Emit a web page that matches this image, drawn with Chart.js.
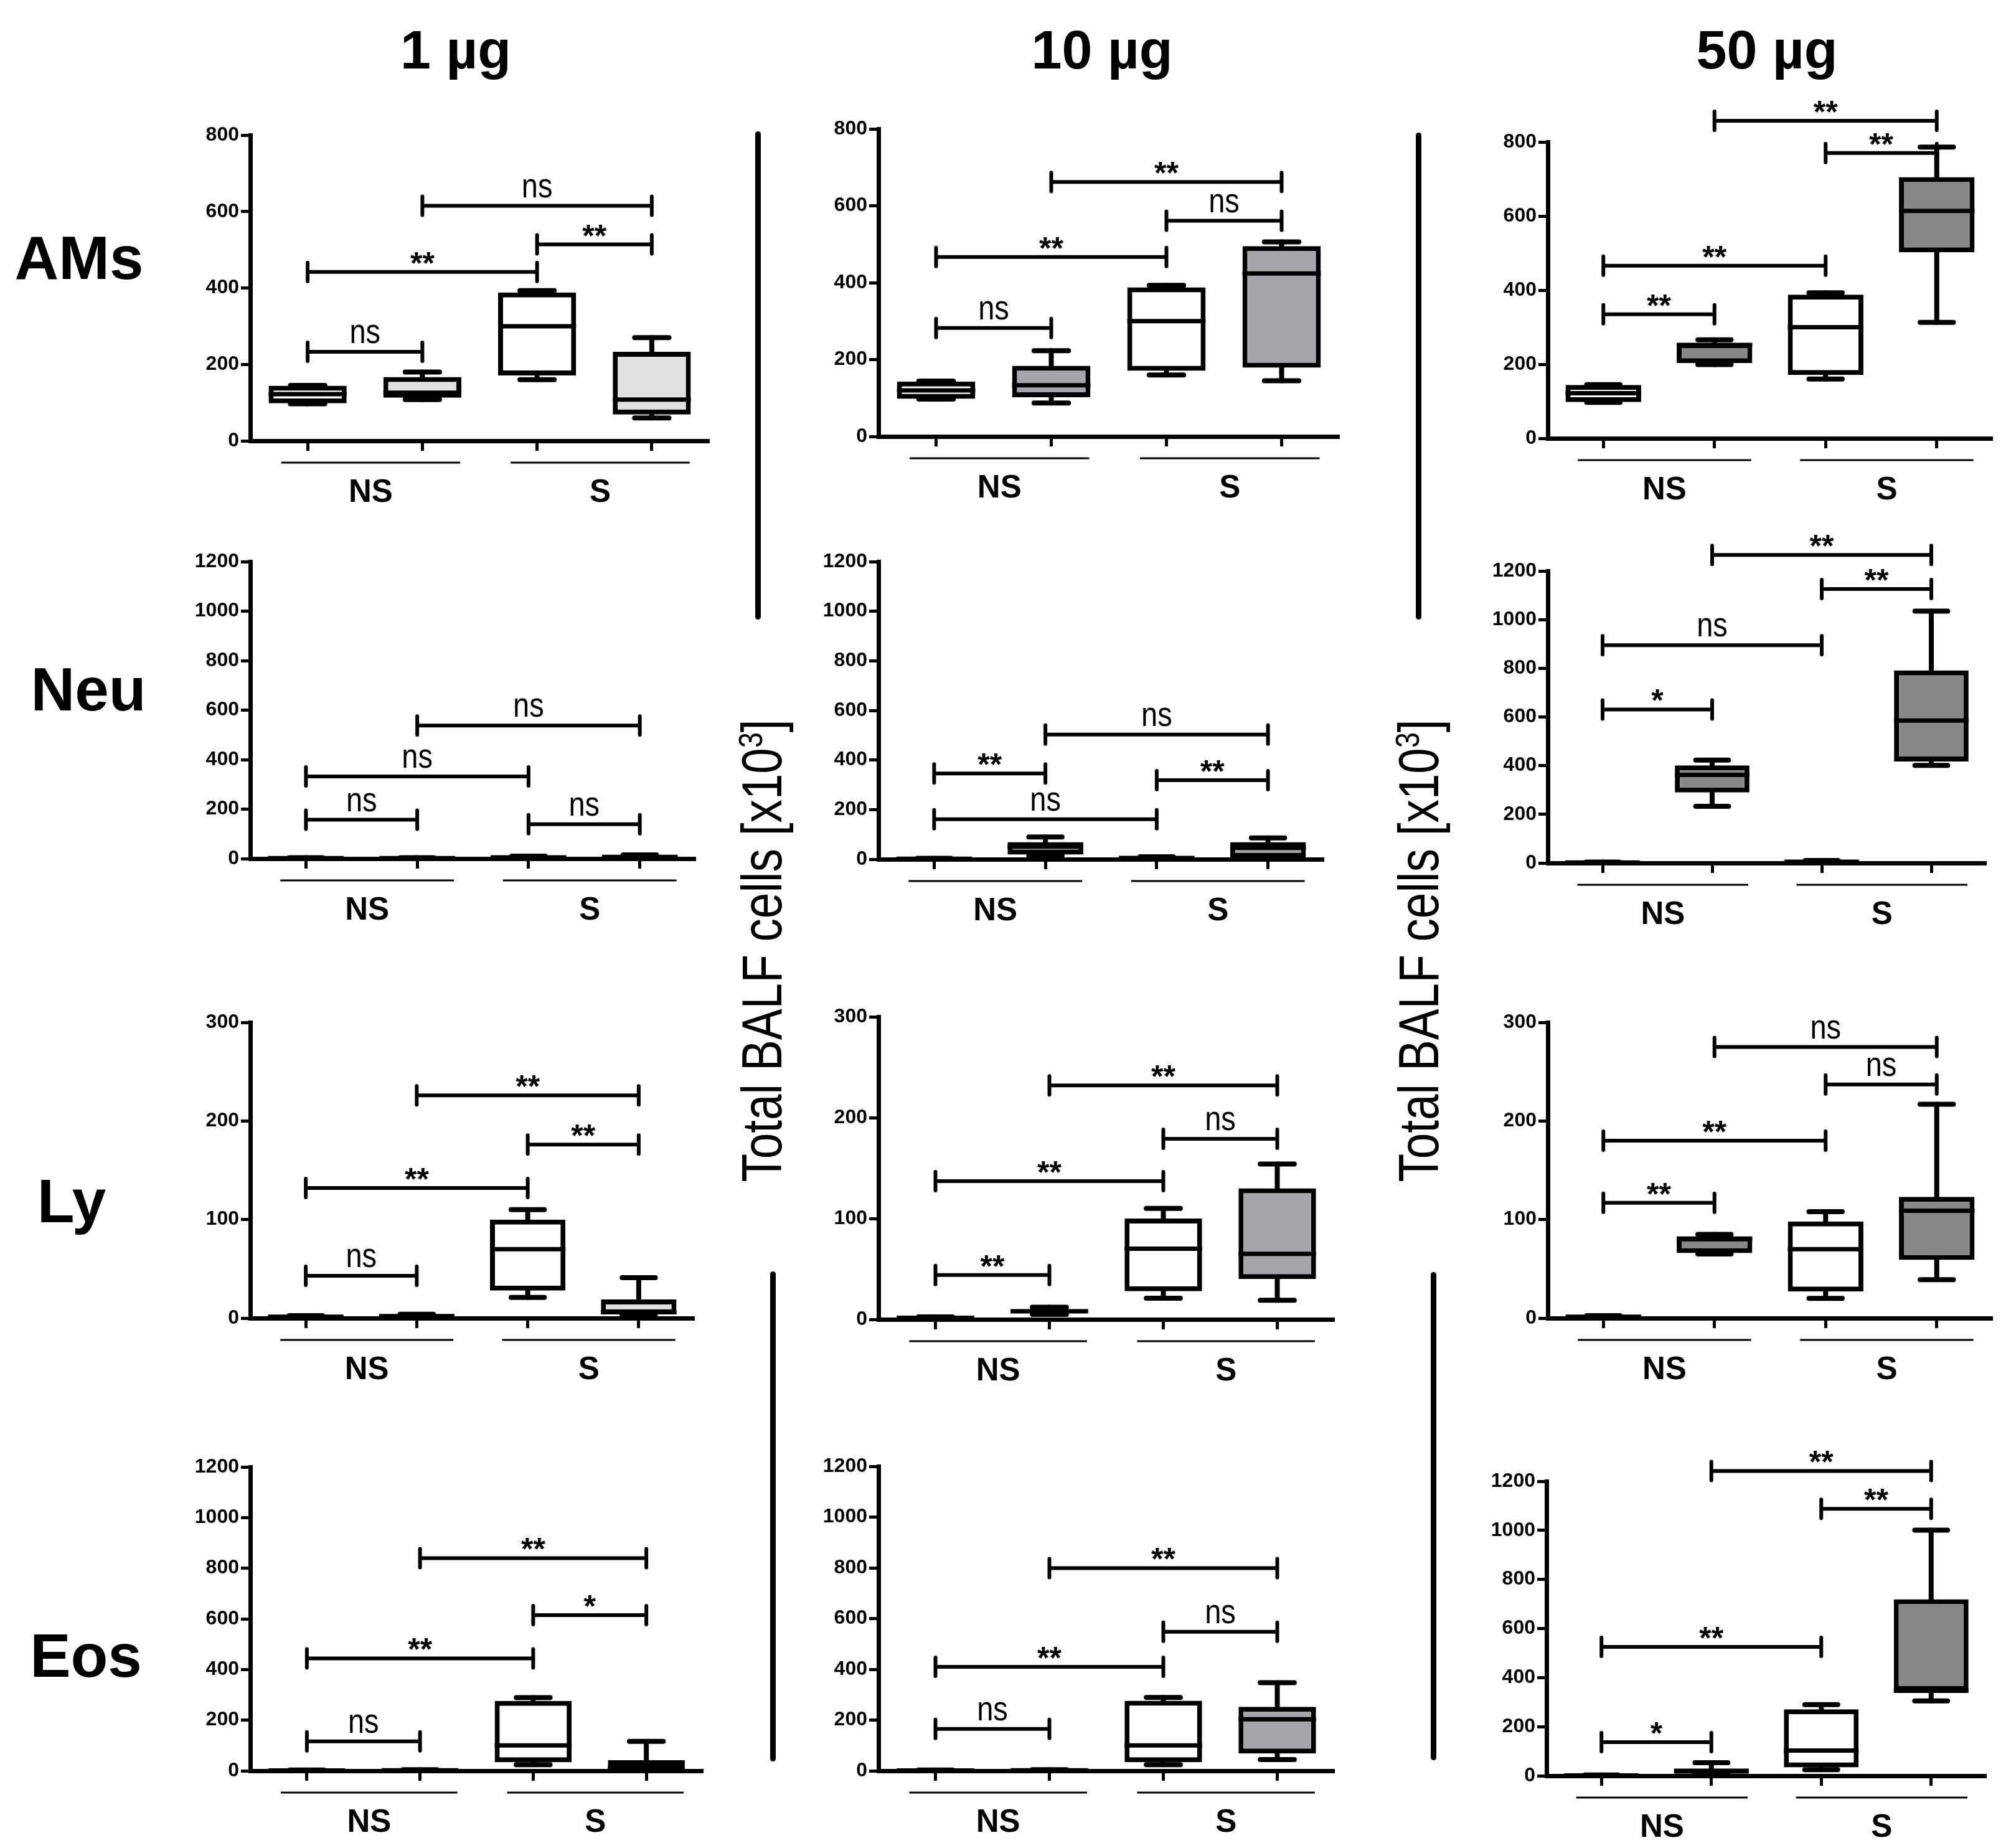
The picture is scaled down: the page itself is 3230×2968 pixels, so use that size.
<!DOCTYPE html>
<html>
<head>
<meta charset="utf-8">
<script src="https://cdn.jsdelivr.net/npm/chart.js@4.4.1/dist/chart.umd.min.js"></script>
<style>
html, body { margin: 0; padding: 0; background: #fff; }
#fig { position: relative; width: 3230px; height: 2968px; overflow: hidden; background: #fff;
       font-family: 'Liberation Sans', Arial, sans-serif; color: #000; }
.panel { position: absolute; }
.lbl { position: absolute; width: 1000px; text-align: center; white-space: nowrap; font-weight: bold; }
.sep { position: absolute; width: 9px; background: #000; border-radius: 5px; }
.ytitle { position: absolute; width: 1100px; height: 100px; line-height: 100px; text-align: center;
          white-space: nowrap; font-size: 90px;
          font-family: 'Liberation Sans', Arial, sans-serif;
          transform: rotate(-90deg) scaleX(0.83); }
.ytitle sup { font-size: 0.6em; line-height: 0; }
</style>
</head>
<body>
<div id="fig"></div>
<script>
// columns and rows of the figure
const doses = ['1 µg', '10 µg', '50 µg'];
const cellTypes = ['AMs', 'Neu', 'Ly', 'Eos'];
const groups = ['NS', 'S'];
const categories = ['NS control', 'NS treated', 'S control', 'S treated'];
const yMaxima = [800, 1200, 300, 1200];
const ySteps = [200, 200, 100, 200];

// box stats per dose, per group: [min, q1, median, q3, max]
const amsBoxes = [
    [[97, 98, 122, 144, 145], [108, 113, 126, 167, 180], [160, 171, 300, 388, 393], [60, 69, 108, 233, 270]],
    [[97, 98, 120, 143, 144], [87, 102, 133, 184, 223], [160, 171, 300, 388, 393], [145, 179, 424, 495, 506]],
    [[97, 98, 122, 144, 145], [199, 203, 252, 257, 266], [160, 171, 300, 388, 393], [313, 502, 614, 705, 786]]
];
const neuBoxes = [
    [[0, 1, 2, 3, 4], [0, 1, 2, 3, 4], [1, 3, 5, 8, 10], [2, 4, 7, 12, 15]],
    [[0, 1, 2, 3, 4], [14, 19, 51, 69, 90], [1, 3, 5, 8, 10], [3, 6, 46, 69, 86]],
    [[0, 1, 2, 3, 4], [233, 290, 362, 401, 423], [1, 3, 5, 8, 10], [401, 417, 585, 791, 1035]]
];
const lyBoxes = [
    [[0, 1, 1.5, 2, 2.5], [1, 1.5, 2, 3, 4], [21, 28, 70, 100, 110], [3, 4, 6, 19, 41]],
    [[0, 1, 1.5, 2, 2.5], [5, 6, 8, 10, 12], [21, 28, 70, 100, 110], [19, 40, 65, 130, 154]],
    [[0, 1, 1.5, 2, 2.5], [65, 66, 80, 83, 85], [20, 27, 70, 98, 108], [39, 59, 109, 123, 217]]
];
const eosBoxes = [
    [[0, 0.5, 1, 2, 3], [0, 1, 2, 3, 4], [24, 34, 100, 276, 289], [5, 8, 10, 42, 116]],
    [[0, 0.5, 1, 2, 3], [0, 1, 2, 3, 4], [24, 34, 100, 276, 289], [44, 68, 203, 252, 347]],
    [[0, 0.5, 1, 2, 3], [6, 8, 19, 30, 53], [25, 34, 103, 271, 290], [305, 346, 346, 719, 1001]]
];

// significance brackets per dose: [from group, to group, height, label]
const amsSig = [
    [[0, 1, 233, 'ns'], [0, 2, 442, '**'], [2, 3, 514, '**'], [1, 3, 615, 'ns']],
    [[0, 1, 282, 'ns'], [0, 2, 467, '**'], [2, 3, 561, 'ns'], [1, 3, 662, '**']],
    [[0, 1, 335, '**'], [0, 2, 466, '**'], [2, 3, 770, '**'], [1, 3, 857, '**']]
];
const neuSig = [
    [[0, 1, 157, 'ns'], [0, 2, 332, 'ns'], [2, 3, 139, 'ns'], [1, 3, 538, 'ns']],
    [[0, 1, 346, '**'], [0, 2, 161, 'ns'], [2, 3, 319, '**'], [1, 3, 503, 'ns']],
    [[0, 1, 631, '*'], [0, 2, 895, 'ns'], [2, 3, 1126, '**'], [1, 3, 1266, '**']]
];
const lySig = [
    [[0, 1, 43, 'ns'], [0, 2, 132, '**'], [2, 3, 176, '**'], [1, 3, 226, '**']],
    [[0, 1, 44, '**'], [0, 2, 137, '**'], [2, 3, 179, 'ns'], [1, 3, 232, '**']],
    [[0, 1, 117, '**'], [0, 2, 180, '**'], [2, 3, 237, 'ns'], [1, 3, 275, 'ns']]
];
const eosSig = [
    [[0, 1, 116, 'ns'], [0, 2, 444, '**'], [2, 3, 615, '*'], [1, 3, 840, '**']],
    [[0, 1, 165, 'ns'], [0, 2, 410, '**'], [2, 3, 548, 'ns'], [1, 3, 799, '**']],
    [[0, 1, 137, '*'], [0, 2, 525, '**'], [2, 3, 1088, '**'], [1, 3, 1242, '**']]
];

const allBoxes = [amsBoxes, neuBoxes, lyBoxes, eosBoxes];
const allSig = [amsSig, neuSig, lySig, eosSig];

// styling
const treatedFills = ['#e0e0e0', '#a5a6aa', '#888888'];
const controlFill = '#ffffff';
const SANS = "'Liberation Sans', Arial, sans-serif";

// placement of each panel: [y-axis x, x-axis end, top tick y, zero y]
const frames = [
    [[402, 1139, 217, 708], [1411, 2151, 207, 701], [2486, 3200, 228, 704]],
    [[402, 1117, 902, 1379], [1411, 2126, 902, 1380], [2486, 3190, 917, 1386]],
    [[402, 1115, 1642, 2117], [1411, 2143, 1633, 2119], [2486, 3200, 1642, 2117]],
    [[402, 1129, 2356, 2844], [1411, 2143, 2355, 2844], [2484, 3190, 2379, 2852]]
];

const fig = document.getElementById('fig');

function line(ctx, x1, y1, x2, y2) {
    ctx.beginPath();
    ctx.moveTo(x1, y1);
    ctx.lineTo(x2, y2);
    ctx.stroke();
}

// condensed text, centred on x
function narrowText(ctx, text, x, y, sx) {
    ctx.save();
    ctx.translate(x, y);
    ctx.scale(sx, 1);
    ctx.fillText(text, 0, 0);
    ctx.restore();
}

// whiskers, medians, brackets and group labels
function boxPlot(boxes, sig) {
    return {
        id: 'boxPlot',
        beforeDatasetsDraw(chart) {
            const { ctx, scales: { x, y } } = chart;
            const bars = chart.getDatasetMeta(0).data;
            ctx.save();
            ctx.strokeStyle = '#000';
            ctx.lineWidth = 8;
            ctx.lineCap = 'round';
            boxes.forEach((b, i) => {
                const cx = x.getPixelForValue(i);
                const cap = bars[i].width * 0.22;
                const pMin = y.getPixelForValue(b[0]);
                const pMax = y.getPixelForValue(b[4]);
                line(ctx, cx, y.getPixelForValue(b[3]), cx, pMax);
                line(ctx, cx, y.getPixelForValue(b[1]), cx, pMin);
                line(ctx, cx - cap, pMax, cx + cap, pMax);
                line(ctx, cx - cap, pMin, cx + cap, pMin);
            });
            ctx.restore();
        },
        afterDatasetsDraw(chart) {
            const { ctx, scales: { x, y } } = chart;
            const bars = chart.getDatasetMeta(0).data;
            ctx.save();
            ctx.strokeStyle = '#000';
            ctx.lineWidth = 7;
            ctx.lineCap = 'butt';
            boxes.forEach((b, i) => {
                const cx = x.getPixelForValue(i);
                const hw = bars[i].width / 2;
                const pm = y.getPixelForValue(b[2]);
                line(ctx, cx - hw, pm, cx + hw, pm);
            });
            ctx.restore();
        },
        afterDraw(chart) {
            const { ctx, scales: { x, y } } = chart;
            ctx.save();
            ctx.strokeStyle = '#000';
            ctx.fillStyle = '#000';
            ctx.textAlign = 'center';
            ctx.textBaseline = 'alphabetic';
            sig.forEach(([a, b, v, lab]) => {
                const xa = x.getPixelForValue(a), xb = x.getPixelForValue(b);
                const yy = y.getPixelForValue(v);
                ctx.lineWidth = 6;
                ctx.lineCap = 'butt';
                line(ctx, xa, yy, xb, yy);
                ctx.lineCap = 'round';
                line(ctx, xa, yy - 15, xa, yy + 15);
                line(ctx, xb, yy - 15, xb, yy + 15);
                if (lab === 'ns') {
                    ctx.font = '56px ' + SANS;
                    narrowText(ctx, lab, (xa + xb) / 2, yy - 14, 0.84);
                } else {
                    ctx.font = 'bold 50px ' + SANS;
                    ctx.fillText(lab, (xa + xb) / 2, yy + 3);
                }
            });
            // NS / S group underlines
            const cw = x.getPixelForValue(1) - x.getPixelForValue(0);
            const gy = y.getPixelForValue(0) + 35;
            groups.forEach((g, k) => {
                const l = x.getPixelForValue(2 * k) - 0.23 * cw;
                const r = x.getPixelForValue(2 * k + 1) + 0.33 * cw;
                ctx.lineWidth = 3;
                ctx.lineCap = 'butt';
                line(ctx, l, gy, r, gy);
                ctx.font = 'bold 51px ' + SANS;
                ctx.fillText(g, (l + r) / 2, gy + 63);
            });
            ctx.restore();
        }
    };
}

function makePanel(row, col) {
    const [ax, x1, yTop, y0] = frames[row][col];
    const boxes = allBoxes[row][col];
    const sig = allSig[row][col];
    const padTop = Math.min(240, yTop);
    const yAxisW = 110, xAxisH = 130, padRight = 20;
    const left = ax - yAxisW, top = yTop - padTop;
    const w = x1 - ax + yAxisW + padRight;
    const h = y0 - top + xAxisH;

    const div = document.createElement('div');
    div.className = 'panel';
    div.style.left = left + 'px';
    div.style.top = top + 'px';
    div.style.width = w + 'px';
    div.style.height = h + 'px';
    const canvas = document.createElement('canvas');
    canvas.width = w;
    canvas.height = h;
    canvas.style.width = w + 'px';
    canvas.style.height = h + 'px';
    div.appendChild(canvas);
    fig.appendChild(div);

    new Chart(canvas.getContext('2d'), {
        type: 'bar',
        data: {
            labels: categories,
            datasets: [{
                data: boxes.map(b => [b[1], b[3]]),
                backgroundColor: boxes.map((b, i) => i % 2 ? treatedFills[col] : controlFill),
                borderColor: '#000',
                borderWidth: 8,
                borderSkipped: false,
                barPercentage: 0.68,
                categoryPercentage: 1
            }]
        },
        options: {
            responsive: false,
            animation: false,
            devicePixelRatio: 1,
            events: [],
            layout: { padding: { top: padTop, right: padRight, left: 0, bottom: 0 } },
            plugins: { legend: { display: false }, tooltip: { enabled: false }, title: { display: false } },
            scales: {
                x: {
                    type: 'category',
                    offset: true,
                    grid: { display: true, offset: false, drawOnChartArea: false, drawTicks: true,
                            tickLength: 16, tickWidth: 5, color: '#000' },
                    border: { display: true, color: '#000', width: 7 },
                    ticks: { callback: () => '', padding: 0 },
                    afterFit(s) { s.height = xAxisH; }
                },
                y: {
                    min: 0,
                    max: yMaxima[row],
                    grid: { display: true, drawOnChartArea: false, drawTicks: true,
                            tickLength: 15, tickWidth: 5, color: '#000' },
                    border: { display: true, color: '#000', width: 7 },
                    ticks: { stepSize: ySteps[row], autoSkip: false, padding: 3, color: '#000',
                             callback: v => String(v),
                             font: { family: SANS, weight: 'bold', size: 32 } },
                    afterFit(s) { s.width = yAxisW; }
                }
            }
        },
        plugins: [boxPlot(boxes, sig)]
    });
}

// text placed by the centre of its capital letters
function addLabel(text, cx, cy, size) {
    const d = document.createElement('div');
    d.className = 'lbl';
    d.textContent = text;
    d.style.fontSize = size + 'px';
    d.style.lineHeight = size + 'px';
    d.style.left = (cx - 500) + 'px';
    d.style.top = (cy - 0.4885 * size) + 'px';
    fig.appendChild(d);
}

function addSep(x, y1, y2) {
    const d = document.createElement('div');
    d.className = 'sep';
    d.style.left = (x - 4.5) + 'px';
    d.style.top = y1 + 'px';
    d.style.height = (y2 - y1) + 'px';
    fig.appendChild(d);
}

function addYTitle(cx, cy) {
    const d = document.createElement('div');
    d.className = 'ytitle';
    d.innerHTML = 'Total BALF cells [x10<sup>3</sup>]';
    d.style.left = (cx - 550) + 'px';
    d.style.top = (cy - 50) + 'px';
    fig.appendChild(d);
}

[732, 1770, 2838].forEach((cx, i) => addLabel(doses[i], cx, 79, 88));
[[127, 413], [142, 1106], [115, 1928], [138, 2658]].forEach(([cx, cy], i) => addLabel(cellTypes[i], cx, cy, 98));

addSep(1217, 211, 995);
addSep(1241, 2042, 2829);
addSep(2278, 213, 995);
addSep(2302, 2043, 2827);
addYTitle(1224, 1527);
addYTitle(2279, 1527);

for (let r = 0; r < 4; r++) {
    for (let c = 0; c < 3; c++) makePanel(r, c);
}
</script>
</body>
</html>
